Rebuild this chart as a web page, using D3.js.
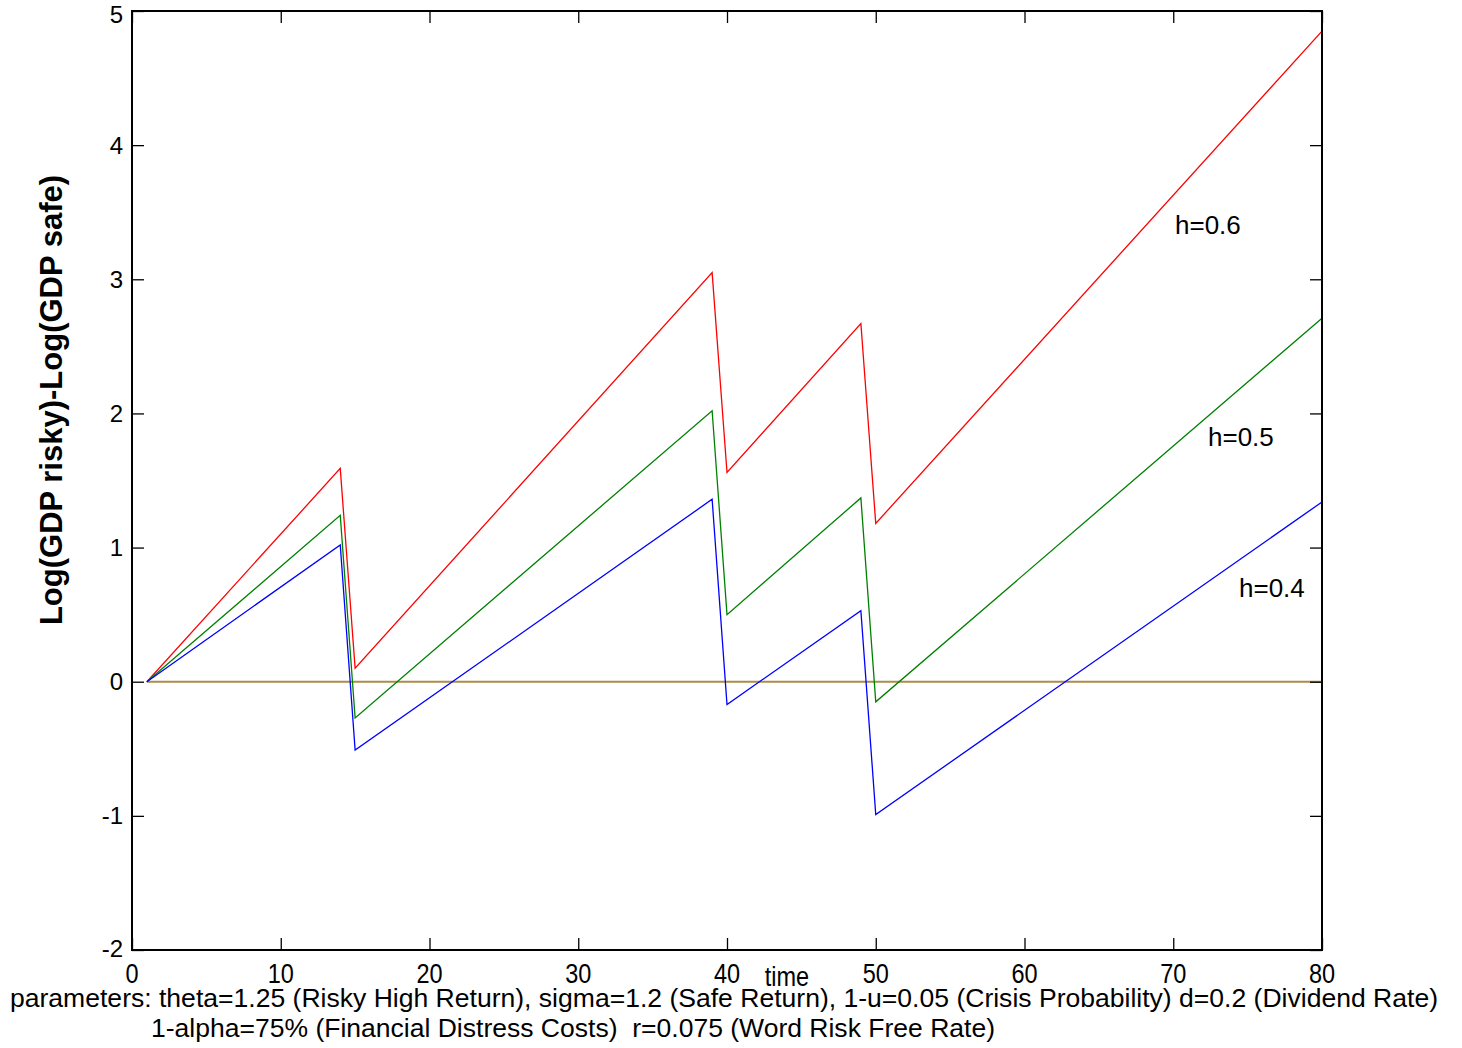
<!DOCTYPE html>
<html><head><meta charset="utf-8">
<script src="https://cdn.jsdelivr.net/npm/d3@7"></script>
<style>body{margin:0;background:#fff;} text{font-family:"Liberation Sans",Arial,sans-serif;fill:#000;}</style>
</head><body>
<svg id="c" width="1462" height="1048"></svg>
<script>
const times = [1, 14, 15, 39, 40, 49, 50, 80];
const h06 = [0, 1.59, 0.10, 3.05, 1.56, 2.67, 1.18, 4.85];
const h05 = [0, 1.24, -0.27, 2.02, 0.50, 1.37, -0.15, 2.71];
const h04 = [0, 1.02, -0.51, 1.36, -0.17, 0.53, -0.99, 1.34];
const zeroLine = [0, 0];
const zeroTimes = [1, 80];
const seriesLabels = ["h=0.6", "h=0.5", "h=0.4"];
const xTicks = [0, 10, 20, 30, 40, 50, 60, 70, 80];
const yTicks = [-2, -1, 0, 1, 2, 3, 4, 5];
const paramLine1 = "parameters: theta=1.25 (Risky High Return), sigma=1.2 (Safe Return), 1-u=0.05 (Crisis Probability) d=0.2 (Dividend Rate)";
const paramLine2 = "1-alpha=75% (Financial Distress Costs)  r=0.075 (Word Risk Free Rate)";

const svg = d3.select("#c");
const L = 132, R = 1322, T = 11, B = 950;
const x = d3.scaleLinear().domain([0, 80]).range([L, R]);
const y = d3.scaleLinear().domain([-2, 5]).range([B, T]);

// zero line
const line = d3.line().x(d => x(d[0])).y(d => y(d[1]));
svg.append("path").attr("d", line(zeroTimes.map((t, i) => [t, zeroLine[i]])))
  .attr("fill", "none").attr("stroke", "#ab8d48").attr("stroke-width", 2);

const series = [
  {v: h06, c: "#ff0000", label: seriesLabels[0], lx: 1175, ly: 225},
  {v: h05, c: "#008000", label: seriesLabels[1], lx: 1208, ly: 437},
  {v: h04, c: "#0000ff", label: seriesLabels[2], lx: 1239, ly: 588}
];
series.forEach(s => {
  svg.append("path").attr("d", line(times.map((t, i) => [t, s.v[i]])))
    .attr("fill", "none").attr("stroke", s.c).attr("stroke-width", 1.3).attr("stroke-linejoin", "miter");
  svg.append("text").attr("x", s.lx).attr("y", s.ly).attr("dy", "0.35em")
    .attr("font-size", 26).text(s.label);
});

// frame
svg.append("rect").attr("x", L).attr("y", T).attr("width", R - L).attr("height", B - T)
  .attr("fill", "none").attr("stroke", "#000").attr("stroke-width", 2);

// axes with inner ticks
const tk = 12;
const gB = svg.append("g").attr("transform", `translate(0,${B})`)
  .call(d3.axisBottom(x).tickValues(xTicks).tickSize(-tk).tickFormat(""));
const gT = svg.append("g").attr("transform", `translate(0,${T})`)
  .call(d3.axisTop(x).tickValues(xTicks).tickSize(-tk).tickFormat(""));
const gL = svg.append("g").attr("transform", `translate(${L},0)`)
  .call(d3.axisLeft(y).tickValues(yTicks).tickSize(-tk).tickFormat(""));
const gR = svg.append("g").attr("transform", `translate(${R},0)`)
  .call(d3.axisRight(y).tickValues(yTicks).tickSize(-tk).tickFormat(""));
[gB, gT, gL, gR].forEach(g => { g.select(".domain").remove(); g.selectAll("line").attr("stroke", "#000").attr("stroke-width", 1.3); });

// x tick labels (condensed)
xTicks.forEach(t => {
  svg.append("text").attr("transform", `translate(${x(t)},983) scale(0.87,1)`)
    .attr("text-anchor", "middle").attr("font-size", 27).text(t);
});
// y tick labels
yTicks.forEach(t => {
  const off = t === 5 ? 3 : (t === -2 ? -2 : 0);
  svg.append("text").attr("x", 123).attr("y", y(t) + off).attr("dy", "0.36em")
    .attr("text-anchor", "end").attr("font-size", 24).text(t);
});

// axis titles
svg.append("text").attr("transform", "translate(787,986) scale(0.87,1)")
  .attr("text-anchor", "middle").attr("font-size", 27).text("time");
svg.append("text").attr("transform", "translate(62,400) rotate(-90)")
  .attr("text-anchor", "middle").attr("font-size", 31).attr("font-weight", "bold")
  .text("Log(GDP risky)-Log(GDP safe)");

// parameter lines
svg.append("text").attr("x", 10).attr("y", 1007).attr("font-size", 25)
  .attr("textLength", 1428).attr("lengthAdjust", "spacingAndGlyphs").text(paramLine1);
svg.append("text").attr("x", 151).attr("y", 1037).attr("font-size", 25)
  .style("white-space", "pre")
  .attr("textLength", 844).attr("lengthAdjust", "spacingAndGlyphs").text(paramLine2);
</script>
</body></html>
